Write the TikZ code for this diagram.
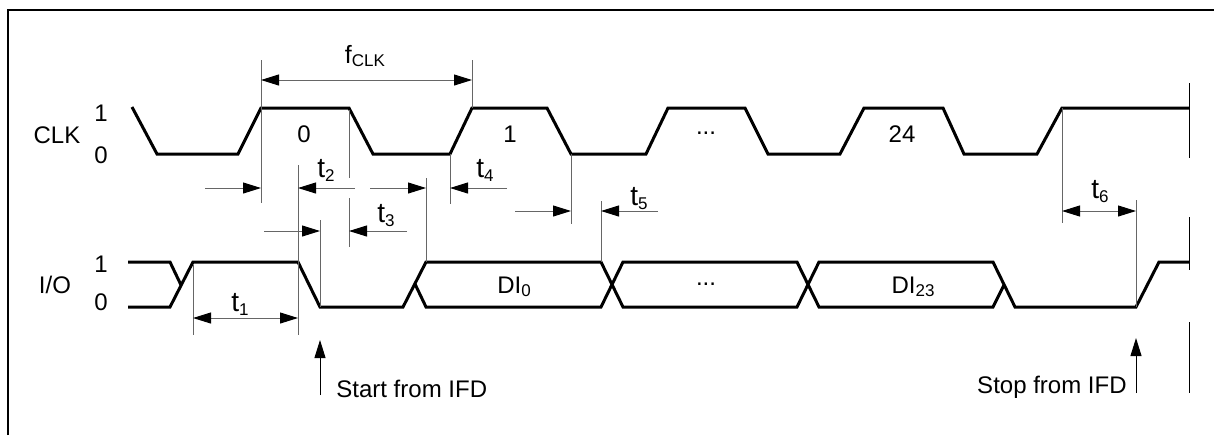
\documentclass[tikz,border=0pt]{standalone}
\usepackage{fontspec}
\setmainfont{Liberation Sans}
\usetikzlibrary{arrows.meta}

\newcommand{\lo}[1]{\raisebox{-0.3ex}{\fontsize{8.5}{10}\selectfont #1}}

\begin{document}
\begin{tikzpicture}[x=0.5pt, y=-0.5pt,
        >={Triangle[length=9pt, width=5.5pt, color=black]},
        sig/.style={line width=1.5pt, line join=miter},
        thin/.style={line width=0.5pt, black!60},
        lbl/.style={inner sep=0pt, anchor=base, font=\fontsize{12}{14}\selectfont},
        tlbl/.style={lbl, font=\fontsize{14}{16}\selectfont}]
    \useasboundingbox (0,0) rectangle (1214,435);

    % frame
    \draw[line width=1pt] (8,435) |- (1214,10);

    % signal names
    \node[lbl] (clk) at (57,143) {CLK};
    \node[lbl] (clk1) at (101,121) {1};
    \node[lbl] (clk0) at (101,163) {0};
    \node[lbl] (io) at (55,293) {I/O};
    \node[lbl] (io1) at (101,272) {1};
    \node[lbl] (io0) at (101,310) {0};

    % CLK
    \draw[sig] (132,107) -- (157,154) -- (238,154) -- (261,108) -- (349,108) -- (373,154) -- (450,154) -- (472,108) -- (547,108) -- (571,154) -- (646,154) -- (668,108) -- (745,108) -- (768,154) -- (840,154) -- (864,108) -- (943,108) -- (964,154) -- (1037,154) -- (1062,108) -- (1189,108);
    \node[lbl] (p0) at (304,142) {0};
    \node[lbl] (p1) at (510,142) {1};
    \node[lbl, anchor=center] (pdots) at (706,133) {...};
    \node[lbl] (p24) at (902,142) {24};

    % I/O
    \draw[sig] (128,262) -- (170,262) -- (181,285);
    \draw[sig] (128,307) -- (170,307) -- (193,262) -- (298,262) -- (320,307) -- (403,307) -- (426,262) -- (601,262) -- (623,307) -- (797,307) -- (819,262) -- (993,262) -- (1015,307) -- (1136,307) -- (1159,262) -- (1189,262);
    \draw[sig] (415,284) -- (426,307) -- (601,307) -- (623,262) -- (797,262) -- (819,307) -- (993,307) -- (1004,285);
    \node[lbl] (d0) at (514,293) {DI\lo{0}};
    \node[lbl, anchor=center] (ddots) at (706,284) {...};
    \node[lbl] (d23) at (913,293) {DI\lo{23}};

    % extension lines
    \draw[thin] (261,60) -- (261,203) (472,60) -- (472,108)
        (349,110) -- (349,178) (349,198) -- (349,247)
        (298,165) -- (298,335) (193,265) -- (193,335)
        (320,220) -- (320,307) (426,178) -- (426,262)
        (450,154) -- (450,204) (571,154) -- (571,224)
        (601,201) -- (601,262) (1062,108) -- (1062,223)
        (1136,200) -- (1136,307);
    \draw[line width=0.5pt] (1189,83) -- (1189,158) (1189,217) -- (1189,270) (1189,322) -- (1189,393);

    % f_CLK
    \draw[thin, <->] (261,80) -- (472,80);
    \node[lbl, font=\fontsize{12.5}{14}\selectfont] (fclk) at (365,63) {f\lo{CLK}};

    % t1 .. t6
    \draw[thin, <->] (193,318) -- (298,318);
    \node[tlbl] (t1) at (240,311) {t\lo{1}};
    \draw[thin, ->] (205,188) -- (261,188);
    \draw[thin, ->] (355,188) -- (298,188);
    \node[tlbl] (t2) at (326,177) {t\lo{2}};
    \draw[thin, ->] (264,231) -- (320,231);
    \draw[thin, ->] (407,231) -- (349,231);
    \node[tlbl] (t3) at (386,222) {t\lo{3}};
    \draw[thin, ->] (370,188) -- (426,188);
    \draw[thin, ->] (507,188) -- (450,188);
    \node[tlbl] (t4) at (485,177) {t\lo{4}};
    \draw[thin, ->] (515,211) -- (571,211);
    \draw[thin, ->] (658,211) -- (601,211);
    \node[tlbl] (t5) at (639,205) {t\lo{5}};
    \draw[thin, <->] (1062,211) -- (1136,211);
    \node[tlbl] (t6) at (1100,198) {t\lo{6}};

    % start / stop
    \coordinate (go) at (320,340);
    \coordinate (halt) at (1136,338);
    \draw[line width=0.5pt, ->] (go |- 0,395) -- (go);
    \draw[line width=0.5pt, ->] (halt |- 0,393) -- (halt);
    \node[lbl, anchor=base west] (start) at (336,397) {Start from IFD};
    \node[lbl, anchor=base east] (stop) at (1127,393) {Stop from IFD};
\end{tikzpicture}
\end{document}
